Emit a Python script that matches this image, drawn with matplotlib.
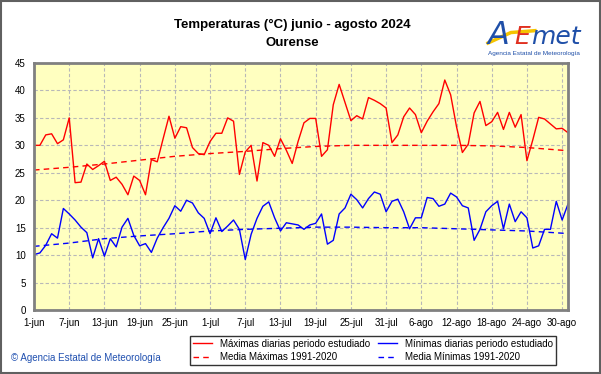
import numpy as np
import matplotlib.pyplot as plt
from matplotlib.patches import Rectangle

plt.rcParams['font.family'] = ['Liberation Sans', 'DejaVu Sans']

# daily values 1-jun .. 31-ago 2024 (92 days)
tmax = [30.0, 30.0, 31.9, 32.1, 30.3, 31.0, 35.0, 23.2, 23.3, 26.6,
        25.6, 26.3, 27.1, 23.6, 24.2, 22.9, 21.0, 24.4, 23.6, 21.0,
        27.4, 27.0, 31.2, 35.3, 31.3, 33.4, 33.2, 29.6, 28.5, 28.3,
        30.7, 32.2, 32.2, 35.0, 34.4, 24.7, 28.8, 30.0, 23.5, 30.5,
        30.0, 28.0, 31.2, 29.1, 26.7, 30.7, 34.1, 34.9, 34.9, 28.0,
        29.2, 37.4, 41.1, 37.8, 34.5, 35.4, 34.8, 38.7, 38.2, 37.6,
        36.8, 30.5, 31.9, 35.2, 36.8, 35.6, 32.3, 34.4, 36.1, 37.6,
        41.9, 39.2, 33.4, 28.7, 30.2, 35.9, 38.0, 33.6, 34.3, 36.0,
        32.9, 36.0, 33.3, 35.6, 27.2, 31.0, 35.1, 34.8, 33.9, 33.0,
        33.1, 32.3]
tmin = [10.1, 10.4, 11.8, 13.9, 13.1, 18.5, 17.5, 16.4, 15.1, 14.1,
        9.5, 13.0, 9.8, 13.0, 11.5, 15.1, 16.7, 13.6, 11.7, 12.1,
        10.5, 13.1, 15.0, 16.7, 19.0, 18.0, 20.0, 19.5, 17.7, 16.7,
        13.9, 16.8, 14.3, 15.3, 16.4, 14.7, 9.2, 13.8, 16.7, 18.9,
        19.7, 16.8, 14.4, 15.9, 15.7, 15.5, 14.7, 15.5, 15.8, 17.5,
        12.0, 12.7, 17.5, 18.6, 21.1, 20.1, 18.6, 20.3, 21.5, 21.1,
        17.9, 19.8, 20.2, 17.9, 14.8, 16.8, 16.8, 20.5, 20.3, 18.9,
        19.3, 21.3, 20.6, 19.0, 18.6, 12.7, 14.7, 17.9, 19.0, 19.8,
        14.8, 19.3, 16.1, 17.9, 16.8, 11.3, 11.7, 14.7, 14.7, 19.8,
        16.4, 19.3]

# 1991-2020 normals read at the tick days
norm_days = [0, 6, 12, 18, 24, 30, 36, 42, 48, 54, 60, 66, 72, 78, 84, 90, 91]
norm_max = [25.5, 26.0, 26.6, 27.3, 28.0, 28.5, 28.9, 29.4, 29.8, 30.0,
            30.0, 30.0, 30.0, 29.9, 29.6, 29.1, 29.0]
norm_min = [11.6, 12.2, 13.0, 13.5, 13.9, 14.4, 14.7, 14.9, 15.1, 15.1,
            15.0, 15.0, 14.8, 14.6, 14.4, 14.0, 13.9]

tick_days = [0, 6, 12, 18, 24, 30, 36, 42, 48, 54, 60, 66, 72, 78, 84, 90]
tick_labels = ['1-jun', '7-jun', '13-jun', '19-jun', '25-jun', '1-jul', '7-jul',
               '13-jul', '19-jul', '25-jul', '31-jul', '6-ago', '12-ago',
               '18-ago', '24-ago', '30-ago']

days = np.arange(len(tmax))

fig = plt.figure(figsize=(6.01, 3.74), dpi=100)
ax = fig.add_axes([0.0566, 0.171, 0.8885, 0.6606])
ax.set_facecolor('#FFFFC0')

l1, = ax.plot(days, tmax, color='#FF0000', lw=1.0)
l2, = ax.plot(norm_days, norm_max, color='#FF0000', lw=1.0, ls=(0, (4, 3)))
l3, = ax.plot(days, tmin, color='#0000FF', lw=1.0)
l4, = ax.plot(norm_days, norm_min, color='#0000FF', lw=1.0, ls=(0, (4, 3)))

ax.set_xlim(0, 91)
ax.set_ylim(0, 45)
ax.set_yticks(range(0, 46, 5))
ax.set_xticks(tick_days)
ax.set_xticklabels(tick_labels)
ax.tick_params(length=0, labelsize=7, pad=6)
ax.grid(True, color='#B8B8B8', lw=0.8, ls=(0, (3, 2)))
ax.set_axisbelow(True)
for s in ax.spines.values():
    s.set_color('#808080')
    s.set_linewidth(2)

fig.text(0.487, 0.933, 'Temperaturas (\u00b0C) junio - agosto 2024', ha='center',
         va='center', fontsize=9.5, fontweight='bold')
fig.text(0.487, 0.885, 'Ourense', ha='center', va='center', fontsize=9.5,
         fontweight='bold')

# logo
fig.text(0.812, 0.905, 'A', color='#1F4FA8', fontsize=23, style='italic',
         ha='left', va='center', family='DejaVu Sans')
fig.text(0.855, 0.902, 'E', color='#E03020', fontsize=18, style='italic',
         ha='left', va='center', family='DejaVu Sans')
fig.text(0.884, 0.902, 'met', color='#1F4FA8', fontsize=18, style='italic',
         ha='left', va='center', family='DejaVu Sans')
fig.add_artist(plt.Line2D([0.812, 0.85, 0.89], [0.885, 0.913, 0.918],
                          color='#F5C400', lw=2.5, transform=fig.transFigure))
fig.text(0.889, 0.858, 'Agencia Estatal de Meteorología', color='#1F4FA8',
         fontsize=4.6, ha='center', va='center')

fig.text(0.018, 0.043, '\u00a9 Agencia Estatal de Meteorología', color='#2050B0',
         fontsize=7, ha='left', va='center')

leg = fig.legend([l1, l2, l3, l4],
                 ['Máximas diarias periodo estudiado', 'Media Máximas 1991-2020',
                  'Mínimas diarias periodo estudiado', 'Media Mínimas 1991-2020'],
                 ncol=2, loc='lower left', bbox_to_anchor=(0.308, 0.011, 0.625, 0.088),
                 mode='expand', fontsize=7, frameon=True, fancybox=False,
                 handlelength=2.0, borderpad=0.3, labelspacing=0.35,
                 handletextpad=0.8)
leg.get_frame().set_edgecolor('black')
leg.get_frame().set_linewidth(1.0)

fig.add_artist(Rectangle((0.001, 0.002), 0.997, 0.995, transform=fig.transFigure,
                         fill=False, edgecolor='#606060', lw=1.5))

fig.savefig('out.png', dpi=100)
